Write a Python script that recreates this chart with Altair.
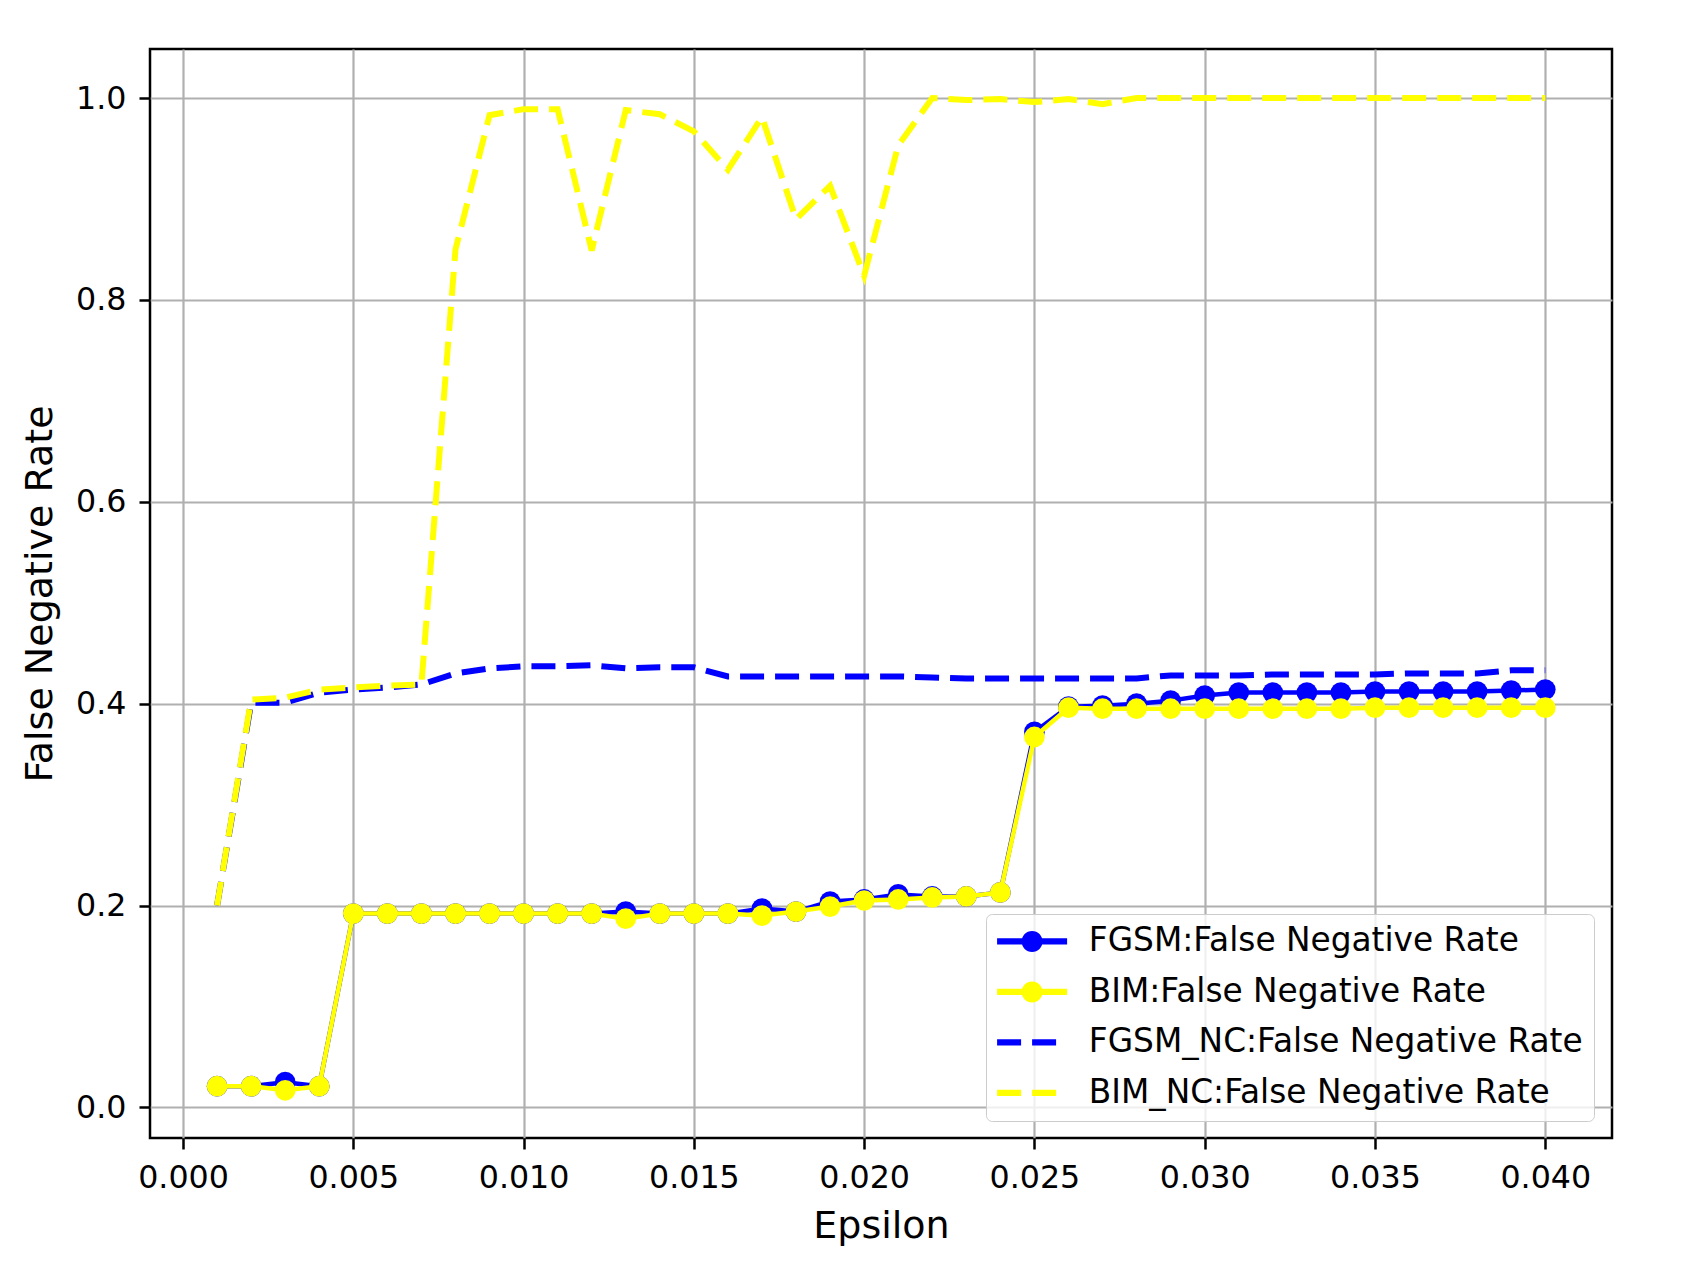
import altair as alt
import pandas as pd

# ---------------- data ----------------
eps = [0.001, 0.002, 0.003, 0.004, 0.005, 0.006, 0.007, 0.008, 0.009, 0.010,
       0.011, 0.012, 0.013, 0.014, 0.015, 0.016, 0.017, 0.018, 0.019, 0.020,
       0.021, 0.022, 0.023, 0.024, 0.025, 0.026, 0.027, 0.028, 0.029, 0.030,
       0.031, 0.032, 0.033, 0.034, 0.035, 0.036, 0.037, 0.038, 0.039, 0.040]

fgsm = [0.021, 0.021, 0.025, 0.021, 0.192, 0.192, 0.192, 0.192, 0.192, 0.192,
        0.192, 0.192, 0.194, 0.192, 0.192, 0.192, 0.197, 0.194, 0.204, 0.206,
        0.211, 0.209, 0.209, 0.213, 0.372, 0.397, 0.398, 0.400, 0.403, 0.408,
        0.411, 0.411, 0.411, 0.411, 0.412, 0.412, 0.412, 0.412, 0.413, 0.414]

bim = [0.021, 0.021, 0.017, 0.021, 0.192, 0.192, 0.192, 0.192, 0.192, 0.192,
       0.192, 0.192, 0.187, 0.192, 0.192, 0.192, 0.190, 0.194, 0.199, 0.205,
       0.206, 0.208, 0.209, 0.213, 0.367, 0.396, 0.395, 0.395, 0.395, 0.395,
       0.395, 0.395, 0.395, 0.395, 0.396, 0.396, 0.396, 0.396, 0.396, 0.396]

fgsm_nc = [0.200, 0.401, 0.401, 0.411, 0.414, 0.416, 0.419, 0.430, 0.435, 0.437,
           0.437, 0.438, 0.435, 0.436, 0.436, 0.427, 0.427, 0.427, 0.427, 0.427,
           0.427, 0.426, 0.425, 0.425, 0.425, 0.425, 0.425, 0.425, 0.428, 0.428,
           0.428, 0.429, 0.429, 0.429, 0.429, 0.430, 0.430, 0.430, 0.433, 0.433]

bim_nc = [0.200, 0.404, 0.406, 0.414, 0.416, 0.418, 0.419, 0.850, 0.983, 0.989,
          0.989, 0.849, 0.988, 0.984, 0.967, 0.929, 0.981, 0.880, 0.913, 0.824,
          0.953, 1.000, 0.998, 0.999, 0.996, 0.999, 0.994, 1.000, 1.000, 1.000,
          1.000, 1.000, 1.000, 1.000, 1.000, 1.000, 1.000, 1.000, 1.000, 1.000]

series_names = ["FGSM:False Negative Rate", "BIM:False Negative Rate",
                "FGSM_NC:False Negative Rate", "BIM_NC:False Negative Rate"]
series_colors = ["#0000ff", "#ffff00", "#0000ff", "#ffff00"]

x_ticks = [0.000, 0.005, 0.010, 0.015, 0.020, 0.025, 0.030, 0.035, 0.040]
y_ticks = [0.0, 0.2, 0.4, 0.6, 0.8, 1.0]

# ---------------- tables ----------------
def frame(vals, name):
    return pd.DataFrame({"eps": eps, "value": vals, "series": name})

df_fgsm = frame(fgsm, series_names[0])
df_bim = frame(bim, series_names[1])
df_fgsm_nc = frame(fgsm_nc, series_names[2])
df_bim_nc = frame(bim_nc, series_names[3])
legend_df = pd.DataFrame({"series": series_names})

FONT = "DejaVu Sans"
LW_SOLID = 4.5
LW_DASH = 6
DASH = [24, 11]
MSIZE = 430

x_enc = alt.X(
    "eps:Q",
    scale=alt.Scale(domain=[-0.00097, 0.04196], nice=False, zero=False),
    axis=alt.Axis(values=x_ticks, format=".3f", title="Epsilon",
                  labelPadding=13, titleBaseline="alphabetic", titleY=99),
)
y_enc = alt.Y(
    "value:Q",
    scale=alt.Scale(domain=[-0.0303, 1.0486], nice=False, zero=False),
    axis=alt.Axis(values=y_ticks, format=".1f", title="False Negative Rate",
                  labelPadding=13, titleBaseline="alphabetic", titleX=-99),
)

def solid(df, color):
    line = alt.Chart(df).mark_line(color=color, strokeWidth=LW_SOLID, strokeJoin="round").encode(x=x_enc, y=y_enc)
    pts = alt.Chart(df).mark_point(filled=True, color=color, size=MSIZE, opacity=1).encode(x=x_enc, y=y_enc)
    return [line, pts]

def dashed(df, color):
    return alt.Chart(df).mark_line(color=color, strokeWidth=LW_DASH, strokeDash=DASH).encode(x=x_enc, y=y_enc)

# custom legend handles: nominal symbol box is 24px (unit = 12px); paths reach beyond it
solid_path = ("M-2.917,-0.26H2.917V0.26H-2.917Z "
              "M0.875,0A0.875,0.875 0 1,1 -0.875,0A0.875,0.875 0 1,1 0.875,0Z")
dash_path = "M-2.917,-0.26H-0.917V0.26H-2.917Z M0,-0.26H2V0.26H0Z"
shape_range = [solid_path, solid_path, dash_path, dash_path]

leg = alt.Legend(
    title=None, orient="none", legendX=836, legendY=865,
    labelFont=FONT, labelFontSize=32.8, labelColor="black", labelLimit=2000,
    symbolSize=576, symbolStrokeWidth=0, symbolOpacity=1, symbolOffset=18.7,
    labelOffset=40.3, padding=11, rowPadding=16.5,
    fillColor="rgba(255,255,255,0.8)", strokeColor="#cccccc", cornerRadius=6,
)

legend_layer = alt.Chart(legend_df).mark_point(filled=True, opacity=1).encode(
    shape=alt.Shape("series:N", scale=alt.Scale(domain=series_names, range=shape_range), legend=leg),
    color=alt.Color("series:N", scale=alt.Scale(domain=series_names, range=series_colors), legend=leg),
).transform_filter("false")

layers = (solid(df_fgsm, series_colors[0]) + solid(df_bim, series_colors[1])
          + [dashed(df_fgsm_nc, series_colors[2]), dashed(df_bim_nc, series_colors[3]), legend_layer])

chart = alt.layer(*layers).properties(
    width=1462, height=1089,
    autosize=alt.AutoSizeParams(type="none"),
    padding={"left": 142, "top": 41, "right": 30, "bottom": 114},
).configure_view(
    stroke="black", strokeWidth=2.5
).configure_axis(
    labelFont=FONT, labelFontSize=31.7, labelColor="black",
    titleFont=FONT, titleFontSize=38, titleFontWeight="normal", titleColor="black",
    tickColor="black", tickSize=11, tickWidth=2.5,
    domain=False, grid=True, gridColor="#b0b0b0", gridWidth=2.2,
)

chart.save("out.html", embed_options={"renderer": "svg", "actions": False})
